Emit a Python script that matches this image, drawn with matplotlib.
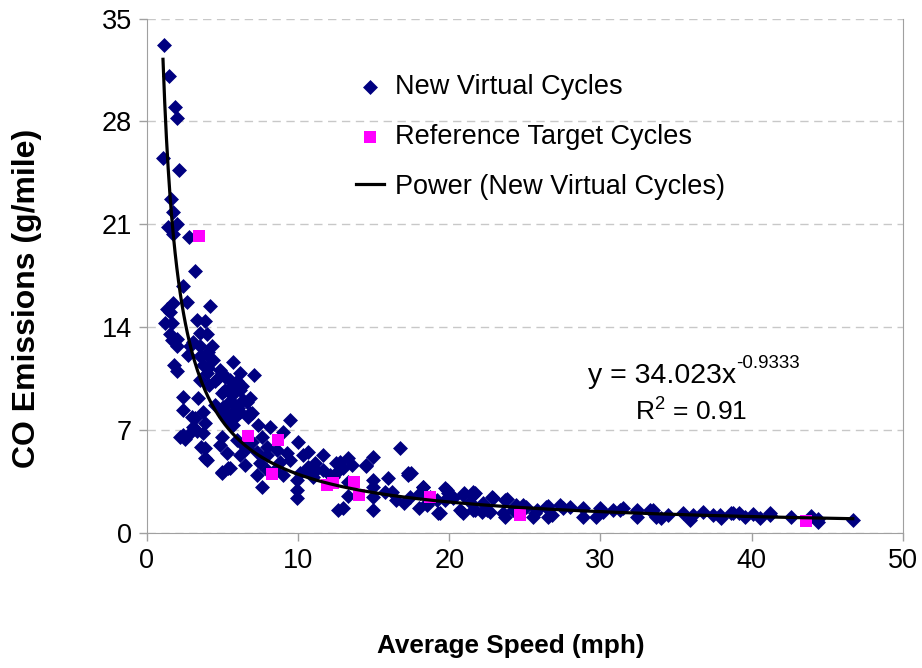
import numpy as np
import matplotlib
matplotlib.use("Agg")
import matplotlib.pyplot as plt

plt.rcParams['font.family'] = ['Liberation Sans', 'DejaVu Sans']
plt.rcParams['mathtext.fontset'] = 'custom'
plt.rcParams['mathtext.rm'] = 'Liberation Sans'
plt.rcParams['mathtext.it'] = 'Liberation Sans'

# new virtual cycles: average speed (mph), CO (g/mile)
virt_speed = [
    1.12, 1.45, 1.85, 1.96, 1.06, 2.1, 1.6, 1.74, 1.41, 2.0, 1.74, 2.78, 3.17, 2.4,
    1.74, 2.62, 4.2, 1.52, 1.19, 1.63, 3.29, 3.84, 1.52, 1.96, 1.96, 2.84, 3.5, 3.95,
    3.5, 4.28, 3.5, 4.05, 1.79, 1.96, 3.72, 4.05, 5.67, 4.83, 3.95, 6.15, 7.08, 4.72,
    5.16, 5.93, 4.12, 6.26, 2.4, 3.39, 4.94, 5.6, 6.37, 5.38, 2.4, 4.5, 6.04, 6.81,
    2.96, 5.16, 5.6, 3.84, 3.06, 5.7,
    4.94, 5.7, 6.6, 5.05, 5.93, 6.92, 3.17, 5.49, 8.13, 9.46, 3.72, 4.94, 7.59, 9.01,
    4.83, 3.84, 3.84, 5.27, 6.6, 7.92, 10.0, 9.24, 10.34, 11.66, 6.48, 7.47, 8.8, 5.49,
    4.94, 7.26, 9.01, 10.1, 11.2, 12.5, 9.9, 7.58, 9.9, 9.9, 12.65,
    2.4, 2.84, 2.2, 3.6, 3.95, 4.94, 5.38, 2.5, 3.3,
    12.76, 13.3, 13.54, 12.98, 14.48, 14.97, 16.73, 17.28, 17.5, 12.32, 13.3, 14.97,
    15.96, 14.97, 15.74, 13.3, 14.97, 16.18, 17.4, 18.27, 18.5, 19.82, 19.71, 20.26,
    19.27, 12.98, 14.97, 20.92, 21.6, 20.7, 21.6, 12.1, 18.05, 19.16, 16.5, 17.0, 18.0,
    21.7, 22.8, 23.8, 21.7, 22.5, 23.57, 24.9, 25.8, 26.55, 27.3, 27.98, 28.85, 25.7,
    26.8, 28.85, 29.96, 30.84, 31.5, 32.4, 33.27, 29.74, 32.4, 33.7, 35.47, 36.1, 21.36,
    22.24, 22.7, 24.2, 25.55, 21.0, 19.7, 23.7, 20.9, 23.7, 22.2,
    36.8, 37.45, 38.0, 38.67, 39.2, 39.55, 40.1, 40.54, 41.2, 42.64, 43.96, 44.4, 46.7,
    35.9, 34.5, 34.0, 30.2, 31.3, 33.5, 37.9, 38.8, 41.2, 44.4,
    3.5, 4.5, 5.6, 6.15, 6.7, 7.36, 8.58, 9.46, 10.67, 11.0,
    7.92, 8.47, 6.15, 5.93, 6.37, 6.92, 7.26, 7.92, 10.56, 11.1,
    12.54, 10.67, 11.66, 1.3, 1.63, 2.73, 3.06, 4.05, 4.39, 5.16,
    5.49, 6.81, 5.8, 6.15, 4.94, 3.72, 14.5, 17.28, 18.27, 20.27,
    21.6, 22.9, 24.45, 25.1, 26.4, 27.5, 18.5, 19.4, 26.55, 19.9, 18.7,
]
virt_co = [
    33.2, 31.1, 29.0, 28.2, 25.5, 24.7, 22.7, 21.8, 20.8, 21.0, 20.3, 20.1, 17.8, 16.8,
    15.6, 15.7, 15.4, 15.0, 14.3, 14.3, 14.5, 14.4, 13.5, 13.2, 12.7, 12.7, 13.6, 13.5,
    12.7, 12.7, 12.0, 12.0, 11.4, 11.0, 11.4, 11.2, 11.6, 11.1, 10.85, 10.85, 10.7, 10.5,
    10.6, 10.3, 10.05, 10.0, 9.26, 9.15, 9.5, 9.37, 9.03, 8.8, 8.35, 8.7, 8.47, 8.13,
    7.9, 7.9, 8.13, 7.44, 7.2, 7.33,
    10.85, 10.05, 8.9, 8.58, 8.35, 8.13, 7.78, 7.44, 7.2, 7.67, 6.76, 6.53, 6.53, 6.87,
    5.96, 5.74, 5.06, 5.4, 5.74, 5.85, 6.19, 5.4, 5.28, 5.28, 4.6, 4.72, 4.83, 4.38,
    4.04, 3.92, 3.92, 4.04, 4.26, 4.72, 3.58, 3.12, 2.9, 2.33, 1.53,
    6.65, 6.8, 6.5, 5.85, 4.94, 4.15, 4.38, 6.4, 6.9,
    4.83, 5.06, 4.6, 4.38, 4.53, 5.17, 5.74, 3.92, 4.08, 3.8, 3.46, 3.58,
    3.7, 3.1, 2.78, 2.49, 2.4, 2.78, 2.44, 3.12, 1.87, 2.9, 2.2, 2.33,
    1.31, 1.65, 1.53, 2.56, 2.56, 1.53, 1.53, 3.92, 2.67, 2.2, 2.2, 2.0, 1.7,
    2.67, 2.4, 2.26, 1.53, 1.53, 1.31, 1.87, 1.53, 1.8, 1.87, 1.76, 1.65, 1.31,
    1.2, 1.08, 1.65, 1.53, 1.65, 1.53, 1.53, 1.08, 1.08, 1.08, 1.31, 1.19, 2.1,
    1.99, 1.42, 1.53, 1.08, 2.67, 3.0, 2.2, 1.31, 1.08, 1.42,
    1.42, 1.19, 0.97, 1.31, 1.31, 1.08, 1.26, 0.97, 1.19, 1.08, 1.12, 0.9, 0.85,
    0.85, 1.2, 1.0, 1.42, 1.5, 1.53, 1.19, 1.31, 1.31, 0.74,
    10.4, 10.3, 8.9, 9.7, 7.9, 7.33, 5.6, 4.94, 4.49, 3.8,
    4.26, 4.26, 5.28, 6.3, 5.96, 6.19, 5.5, 5.28, 4.26, 4.72,
    4.04, 5.5, 4.26, 15.2, 13.1, 12.1, 13.0, 12.3, 11.76, 9.7,
    10.4, 9.15, 7.9, 8.23, 8.35, 8.23, 4.6, 4.04, 3.1, 2.44,
    2.78, 2.33, 1.87, 1.76, 1.76, 1.65, 1.99, 1.31, 1.08, 2.67, 2.44,
]

# reference target cycles
ref_speed = [3.46, 6.7, 8.7, 8.25, 11.9, 12.3, 13.7, 14.05, 18.7, 24.7, 43.6]
ref_co = [20.2, 6.6, 6.3, 4.0, 3.25, 3.4, 3.45, 2.56, 2.44, 1.19, 0.78]

# power trendline fitted to the virtual cycles
fit_a = 34.023
fit_b = -0.9333
fit_r2 = 0.91

x_ticks = [0, 10, 20, 30, 40, 50]
y_ticks = [0, 7, 14, 21, 28, 35]

fig = plt.figure(figsize=(9.22, 6.68), dpi=100)
ax = fig.add_axes([0.1594, 0.2028, 0.8196, 0.7695])

ax.scatter(virt_speed, virt_co, marker='D', s=58, color='#000080',
           linewidths=0, label='New Virtual Cycles', zorder=3)
ax.scatter(ref_speed, ref_co, marker='s', s=68, color='#FF00FF',
           linewidths=0, label='Reference Target Cycles', zorder=4)

xs = np.linspace(min(virt_speed), max(virt_speed), 400)
ax.plot(xs, fit_a * xs ** fit_b, color='black', lw=2.3,
        label='Power (New Virtual Cycles)', zorder=5)

ax.set_xlim(0, 50)
ax.set_ylim(0, 35)
ax.set_xticks(x_ticks)
ax.set_yticks(y_ticks)
ax.tick_params(axis='both', direction='out', length=6, width=1,
               color='#a0a0a0', labelsize=19.5, pad=5)
ax.yaxis.grid(True, linestyle=(0, (6, 4)), color='#c8c8c8', lw=1)
ax.set_axisbelow(True)
for side in ['left', 'bottom', 'right']:
    ax.spines[side].set_color('#a0a0a0')
ax.spines['top'].set_visible(False)

ax.set_xlabel('Average Speed (mph)', fontsize=18.8, fontweight='bold')
ax.set_ylabel('CO Emissions (g/mile)', fontsize=23, fontweight='bold')
ax.xaxis.set_label_coords(0.482, -0.197)
ax.yaxis.set_label_coords(-0.139, 0.456)

# trendline equation, with the exponent set as a raised label
eq = ax.text(0.583, 0.305, 'y = %.3fx' % fit_a, transform=ax.transAxes,
             ha='left', va='center', fontsize=20.5)
ax.annotate('%.4f' % fit_b, xy=(1, 0.97), xycoords=eq, ha='left', va='center',
            fontsize=13.5)
ax.text(0.72, 0.235, 'R$^{2}$ = %.2f' % fit_r2, transform=ax.transAxes,
        ha='center', va='center', fontsize=19)

ax.legend(loc='upper left', bbox_to_anchor=(0.386, 0.889), bbox_transform=fig.transFigure,
          frameon=False, fontsize=19.5, borderpad=0, borderaxespad=0,
          handlelength=1.05, handletextpad=0.4, labelspacing=0.88, markerscale=1.0)

fig.savefig('out.png', dpi=100)
